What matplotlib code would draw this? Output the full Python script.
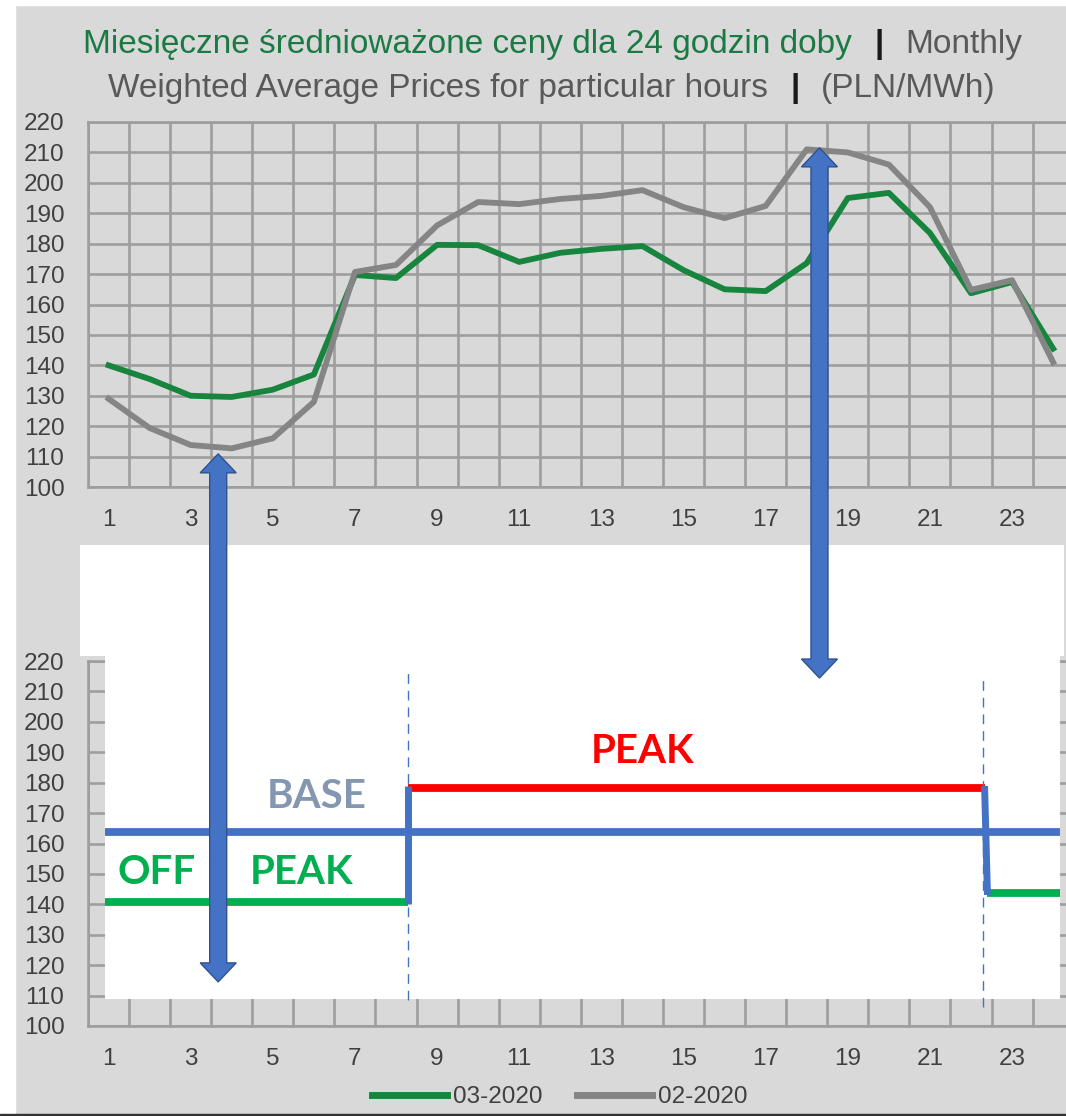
import matplotlib
matplotlib.use("Agg")
import matplotlib.pyplot as plt
from matplotlib.patches import Rectangle, Polygon
from matplotlib.transforms import IdentityTransform
from matplotlib.ticker import MultipleLocator

# hourly weighted average prices (PLN/MWh)
hours = list(range(1, 25))
mar_2020 = [140, 135.5, 130, 129.6, 132, 137, 169.7, 168.7, 179.6, 179.5, 174, 177,
            178.3, 179.2, 171.3, 165, 164.4, 173.6, 195, 196.7, 183.5, 163.7, 167.4, 145.5]
feb_2020 = [129, 119.4, 113.8, 112.7, 116, 128, 170.7, 173, 186, 193.7, 193, 194.7,
            195.7, 197.6, 192, 188.4, 192.4, 211, 210, 206, 192, 164.8, 168, 141]
series_labels = ["03-2020", "02-2020"]
x_ticks = list(range(1, 24, 2))

# schematic BASE / PEAK / OFF PEAK levels drawn on the lower copy
base_level = 163.8
peak_level = 178.3
offpeak_morning = 140.8
offpeak_evening = 143.7
peak_start, peak_end = 8.3, 22.35

W, H = 1066, 1116
BG = "#d9d9d9"
GRID = "#9e9e9e"
TXT = "#404040"
GREEN = "#18853f"
GRAY = "#858585"
BLUE = "#4472c4"

fig = plt.figure(figsize=(W / 100, H / 100), dpi=100, facecolor=BG)
# white margins of the screenshot
fig.patches.append(Rectangle((0, 0), 15 / W, 1, transform=fig.transFigure, color="white", zorder=0))
fig.patches.append(Rectangle((0, 1 - 5 / H), 1, 5 / H, transform=fig.transFigure, color="white", zorder=0))
fig.patches.append(Rectangle((0, 0), 1, 2 / H, transform=fig.transFigure, color="#333333", zorder=0))


def make_chart(bottom_px):
    ax = fig.add_axes([88 / W, (H - bottom_px) / H, 985.7 / W, 365 / H])
    ax.set_facecolor("none")
    ax.set_xlim(0.5, 24.5)
    ax.set_ylim(100, 220)
    ax.yaxis.set_major_locator(MultipleLocator(10))
    ax.set_xticks(x_ticks)
    ax.xaxis.set_minor_locator(MultipleLocator(1, offset=0.5))
    ax.set_axisbelow(True)
    ax.grid(True, axis="y", which="major", color=GRID, lw=1.9)
    ax.grid(True, axis="x", which="minor", color=GRID, lw=1.9)
    for s in ax.spines.values():
        s.set_color(GRID)
        s.set_linewidth(1.9)
    ax.tick_params(which="both", length=0)
    ax.tick_params(axis="y", pad=17, labelsize=17.5, labelcolor=TXT)
    ax.tick_params(axis="x", pad=16, labelsize=17.5, labelcolor=TXT)
    for lab in ax.get_xticklabels() + ax.get_yticklabels():
        lab.set_family("Liberation Sans")
    ax.plot(hours, mar_2020, color=GREEN, lw=4.2, label=series_labels[0], zorder=2)
    ax.plot(hours, feb_2020, color=GRAY, lw=4.2, label=series_labels[1], zorder=2)
    return ax


ax_top = make_chart(487)
ax_bot = make_chart(1026)

# white boxes pasted over the lower copy
ax_bot.add_patch(Rectangle((0.914, 108.9), 24.17 - 0.914, 221.6 - 108.9, facecolor="white",
                           edgecolor="none", clip_on=False, zorder=3))
ax_bot.add_patch(Rectangle((0.305, 221.5), 24.27 - 0.305, 258.1 - 221.5, facecolor="white",
                           edgecolor="none", clip_on=False, zorder=3))

kw = dict(clip_on=False, solid_capstyle="butt", zorder=5)
ax_bot.plot([0.914, 24.17], [base_level, base_level], color=BLUE, lw=5.6, **kw)
ax_bot.plot([peak_start, peak_end], [peak_level, peak_level], color="#ff0000", lw=5.6, **kw)
ax_bot.plot([0.914, peak_start], [offpeak_morning, offpeak_morning], color="#00b050", lw=5.6, **kw)
ax_bot.plot([peak_end + 0.05, 24.17], [offpeak_evening, offpeak_evening], color="#00b050", lw=5.6, **kw)
ax_bot.plot([peak_start, peak_start], [offpeak_morning - 0.6, peak_level + 0.6], color=BLUE, lw=5, **kw)
ax_bot.plot([peak_end - 0.02, peak_end + 0.05], [peak_level + 0.6, offpeak_evening - 0.6], color=BLUE, lw=5, **kw)
ax_bot.plot([peak_start, peak_start], [108.6, 216.1], color=BLUE, lw=1, ls=(0, (7, 5)), **kw)
ax_bot.plot([peak_end - 0.06, peak_end - 0.06], [106.3, 213.8], color=BLUE, lw=1, ls=(0, (7, 5)), **kw)

lab_kw = dict(fontsize=29, fontweight="bold", family="Lato", ha="center", va="center", zorder=6)
ax_bot.text(6.08, 175.3, "BASE", color="#8497b0", **lab_kw)
ax_bot.text(14.0, 190.1, "PEAK", color="#ff0000", **lab_kw)
ax_bot.text(2.18, 150.6, "OFF", color="#00b050", **lab_kw)
ax_bot.text(5.69, 150.6, "PEAK", color="#00b050", **lab_kw)


def double_arrow(ax_a, pa, ax_b, pb):
    x1, y1 = ax_a.transData.transform(pa)
    x2, y2 = ax_b.transData.transform(pb)
    x = (x1 + x2) / 2
    sw, hw, hl = 8.5, 18, 19
    pts = [(x, y1), (x + hw, y1 - hl), (x + sw, y1 - hl), (x + sw, y2 + hl), (x + hw, y2 + hl),
           (x, y2), (x - hw, y2 + hl), (x - sw, y2 + hl), (x - sw, y1 - hl), (x - hw, y1 - hl)]
    fig.add_artist(Polygon(pts, closed=True, facecolor=BLUE, edgecolor="#2f528f", lw=1,
                           transform=IdentityTransform(), zorder=10))


double_arrow(ax_top, (3.67, 110.9), ax_bot, (3.67, 114.5))
double_arrow(ax_top, (18.31, 211.5), ax_bot, (18.31, 214.4))

# two-line title with mixed colours
renderer = fig.canvas.get_renderer()


def title_line(pieces, y_px, cx_px, size=24, gap=22):
    texts = []
    for s, c, wgt in pieces:
        t = fig.text(0, 1 - y_px / H, s, color=c, fontsize=size, fontweight=wgt,
                     family="Liberation Sans", ha="left", va="center")
        texts.append(t)
    widths = [t.get_window_extent(renderer).width for t in texts]
    total = sum(widths) + gap * (len(texts) - 1)
    x = cx_px - total / 2
    for t, w in zip(texts, widths):
        t.set_x(x / W)
        x += w + gap


title_line([("Miesięczne średnioważone ceny dla 24 godzin doby", "#1b7a43", "normal"),
            ("|", "#1a1a1a", "bold"), ("Monthly", "#595959", "normal")], 45, 553)
title_line([("Weighted Average Prices for particular hours", "#595959", "normal"),
            ("|", "#1a1a1a", "bold"), ("(PLN/MWh)", "#595959", "normal")], 88, 552)

leg = fig.legend(handles=ax_bot.get_lines()[:2], labels=series_labels, loc="center",
                 bbox_to_anchor=(560 / W, 1 - 1097 / H), ncol=2, frameon=False,
                 handlelength=3.1, handletextpad=0.25, columnspacing=1.4,
                 prop={"family": "Liberation Sans", "size": 17.5})
for t in leg.get_texts():
    t.set_color(TXT)
for l in leg.get_lines():
    l.set_linewidth(5)

fig.savefig("out.png", dpi=100, facecolor=BG)
